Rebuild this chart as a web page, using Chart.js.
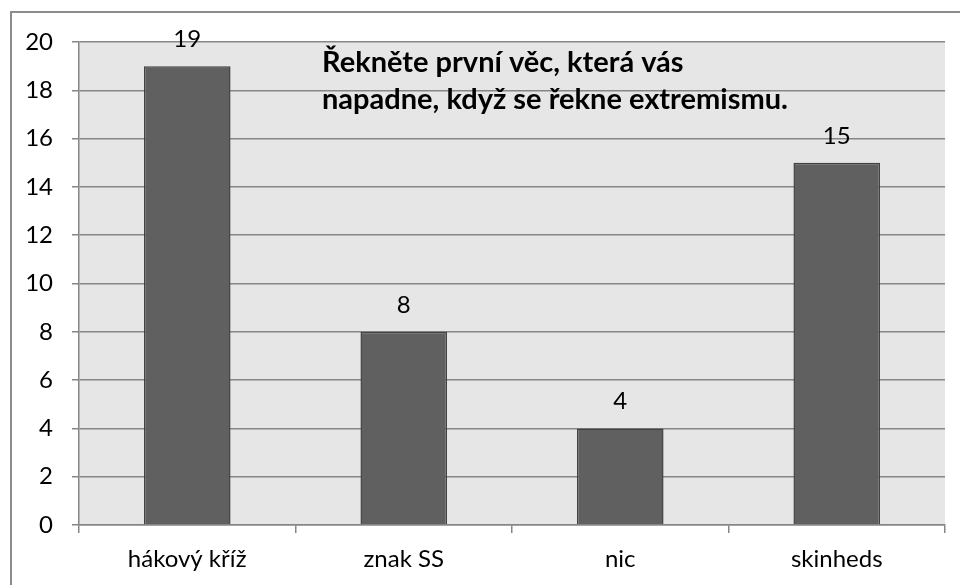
<!DOCTYPE html>
<html>
<head>
<meta charset="utf-8">
<script src="https://cdn.jsdelivr.net/npm/chart.js@4"></script>
<style>
  body { margin: 0; background: #fff; }
  canvas { display: block; }
</style>
</head>
<body>
<canvas id="myChart" width="960" height="585"></canvas>
<script>
// data
const categories = ['hákový kříž', 'znak SS', 'nic', 'skinheds'];
const counts = [19, 8, 4, 15];
const yTicks = [0, 2, 4, 6, 8, 10, 12, 14, 16, 18, 20];
const titleLines = ['Řekněte první věc, která vás', 'napadne, když se řekne extremismu.'];

const gridGray = '#868686';

// frame, plot background, title and value labels
const decor = {
  id: 'decor',
  beforeDraw(chart) {
    const { ctx, chartArea: { left, top, right, bottom } } = chart;
    ctx.save();
    ctx.fillStyle = '#ffffff';
    ctx.fillRect(0, 0, chart.width, chart.height);
    ctx.strokeStyle = '#8c8c8c';
    ctx.lineWidth = 2;
    ctx.beginPath();
    ctx.moveTo(11, 600);
    ctx.lineTo(11, 12);
    ctx.lineTo(970, 12);
    ctx.stroke();
    ctx.fillStyle = '#e6e6e6';
    ctx.fillRect(left, top, right - left, bottom - top);
    ctx.restore();
  },
  afterDatasetsDraw(chart) {
    const { ctx } = chart;
    ctx.save();
    ctx.fillStyle = '#000';
    ctx.font = '24px Lato';
    ctx.textAlign = 'center';
    ctx.textBaseline = 'alphabetic';
    chart.getDatasetMeta(0).data.forEach((bar, i) => {
      ctx.fillText(String(counts[i]), bar.x, bar.y - 19);
    });
    ctx.font = 'bold 29px Lato';
    ctx.textAlign = 'left';
    titleLines.forEach((line, i) => {
      ctx.fillText(line, 322, 72 + i * 37);
    });
    ctx.restore();
  }
};

const config = {
  type: 'bar',
  data: {
    labels: categories,
    datasets: [{
      data: counts,
      backgroundColor: '#606060',
      borderColor: '#424242',
      borderWidth: 1.5,
      categoryPercentage: 0.8,
      barPercentage: 0.5
    }]
  },
  options: {
    responsive: false,
    animation: false,
    layout: { padding: { left: 0, top: 42, right: 15, bottom: 0 } },
    plugins: {
      legend: { display: false },
      tooltip: { enabled: false }
    },
    scales: {
      x: {
        offset: true,
        grid: {
          offset: true,
          drawOnChartArea: false,
          color: gridGray,
          tickLength: 8,
          lineWidth: 1.5
        },
        border: { color: gridGray, width: 1.5 },
        ticks: { color: '#000', font: { family: 'Lato', size: 24 }, padding: 12 },
        afterFit(scale) { scale.height = 60; }
      },
      y: {
        min: 0,
        max: 20,
        afterBuildTicks(scale) { scale.ticks = yTicks.map(v => ({ value: v })); },
        grid: { color: gridGray, tickLength: 7, lineWidth: 1.5 },
        border: { color: gridGray, width: 1.5 },
        ticks: { color: '#000', font: { family: 'Lato', size: 24 }, padding: 19 },
        afterFit(scale) { scale.width = 79; }
      }
    }
  },
  plugins: [decor]
};

const myChart = new Chart(document.getElementById('myChart'), config);
</script>
</body>
</html>
